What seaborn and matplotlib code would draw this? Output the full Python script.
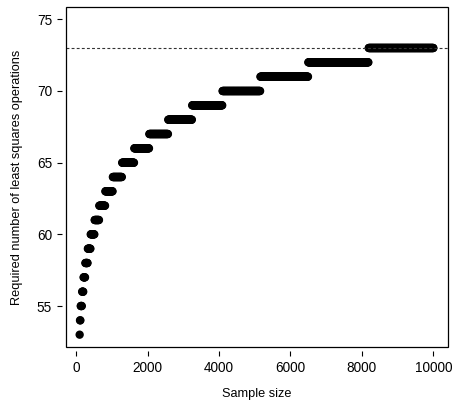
import numpy as np
import pandas as pd
import matplotlib
matplotlib.use("Agg")
import matplotlib.pyplot as plt
from matplotlib.patches import Rectangle
import seaborn as sns

# Sample sizes evaluated (grid on the x axis)
sample_sizes = np.arange(100, 10001, 10)

# Step levels: the sample size where each level starts
level_values = [53, 54, 55, 56, 57, 58, 59, 60, 61, 62, 63, 64, 65,
                66, 67, 68, 69, 70, 71, 72, 73]
level_starts = [100, 102, 128, 161, 203, 256, 323, 406, 512, 645, 813, 1024, 1290,
                1625, 2048, 2580, 3250, 4096, 5160, 6500, 8190]

# Upper bound shown as dashed line
max_ops = 73

idx = np.searchsorted(level_starts, sample_sizes, side="right") - 1
df = pd.DataFrame({"n": sample_sizes, "ops": np.array(level_values)[idx]})

sns.set_style("white")
plt.rcParams["font.family"] = ["Liberation Sans", "DejaVu Sans"]

fig = plt.figure(figsize=(4.53, 4.07), dpi=100)
ax = fig.add_axes([0.1446, 0.1467, 0.8433, 0.8368])

sns.scatterplot(data=df, x="n", y="ops", color="black", s=36,
                edgecolor="none", linewidth=0, ax=ax, legend=False)

ax.axhline(max_ops, color="#333333", lw=0.8, ls=(0, (2.6, 2.0)))

ax.set_xlim(-296, 10396)
ax.set_ylim(52.12, 75.88)
ax.set_xticks([0, 2000, 4000, 6000, 8000, 10000])
ax.set_yticks([55, 60, 65, 70, 75])

# R-style axes: ticks detached from the box
for side in ["left", "bottom"]:
    ax.spines[side].set_position(("outward", 2.5))
    ax.spines[side].set_color("none")
for side in ["right", "top"]:
    ax.spines[side].set_visible(False)
ax.add_patch(Rectangle((0, 0), 1, 1, transform=ax.transAxes, fill=False,
                       edgecolor="black", lw=0.9, clip_on=False, zorder=5))

ax.tick_params(axis="both", direction="out", length=3.6, width=0.8,
               color="black", labelcolor="black", labelsize=9.8, pad=3.5)
ax.tick_params(axis="x", bottom=True)
ax.tick_params(axis="y", left=True)

ax.set_xlabel("Sample size", fontsize=9.2, va="center", color="black")
ax.set_ylabel("Required number of least squares operations", fontsize=9.2,
              va="center", color="black")
ax.xaxis.set_label_coords(0.5, -0.137)
ax.yaxis.set_label_coords(-0.127, 0.5)

fig.savefig("out.png", dpi=100)
